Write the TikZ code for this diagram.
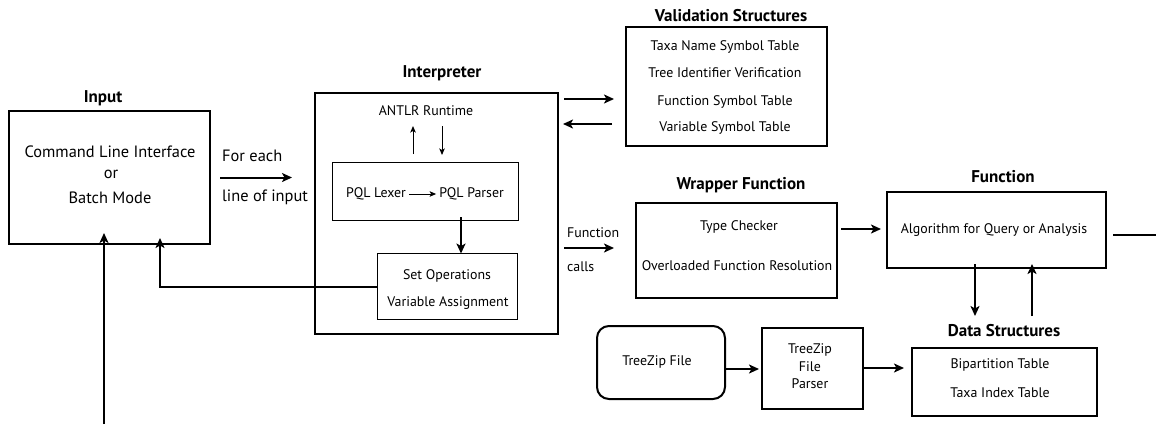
\documentclass[tikz,border=0pt]{standalone}
\usepackage{fontspec}
\setmainfont{PT Sans}
\usetikzlibrary{arrows.meta,calc}
\newcommand{\bodysize}{\fontsize{13.9}{16}\selectfont}
\newcommand{\bigsize}{\fontsize{16.4}{19}\selectfont}
\newcommand{\titlesize}{\fontsize{17}{20}\selectfont\bfseries}
\begin{document}
\begin{tikzpicture}[x=1pt,y=-1pt,
  box/.style={draw,line width=2pt,inner sep=0pt},
  thinbox/.style={draw,line width=0.9pt,inner sep=0pt},
  txt/.style={inner sep=0pt,font=\bodysize},
  bigtxt/.style={inner sep=0pt,font=\bigsize},
  ttl/.style={inner sep=0pt,font=\titlesize},
  arr/.style={line width=2pt,-{Stealth[length=10pt,width=9pt,inset=2.5pt]}},
  sarr/.style={line width=1pt,-{Stealth[length=6.5pt,width=5.5pt,inset=1.5pt]}},
  plain/.style={line width=2pt}]
\useasboundingbox (0,0) rectangle (1156,424);

% ---- boxes ----
\node[box,minimum width=201pt,minimum height=133pt] (input) at (109.5,177.5) {};
\node[box,minimum width=243pt,minimum height=241pt] (interp) at (436.5,213.5) {};
\node[thinbox,minimum width=186pt,minimum height=58pt] (pql) at (425,191) {};
\node[thinbox,minimum width=140pt,minimum height=66pt] (setop) at (447,286) {};
\node[box,minimum width=201pt,minimum height=119pt] (valid) at (726.5,86.5) {};
\node[box,minimum width=201pt,minimum height=95pt] (wrap) at (736.5,250.5) {};
\node[box,minimum width=219pt,minimum height=76pt] (func) at (996.5,230) {};
\node[box,minimum width=185pt,minimum height=68pt] (data) at (1004.5,382) {};
\node[box,rounded corners=12pt,minimum width=128pt,minimum height=73pt] (tzfile) at (661,362.5) {};
\node[box,minimum width=101pt,minimum height=81pt] (tzparser) at (812.5,368.5) {};

% ---- titles ----
\node[ttl] (tInput) at (103,98) {Input};
\node[ttl] (tInterp) at (442,73) {Interpreter};
\node[ttl] (tValid) at (731,16) {Validation Structures};
\node[ttl] (tWrap) at (741,185) {Wrapper Function};
\node[ttl] (tFunc) at (1003,177) {Function};
\node[ttl] (tData) at (1004,331) {Data Structures};

% ---- texts ----
\node[bigtxt] (cli) at (110,152) {Command Line Interface};
\node[bigtxt] (or) at (111,174) {or};
\node[bigtxt] (batch) at (110,198) {Batch Mode};
\node[bigtxt,anchor=west] (foreach) at (222,156) {For each};
\node[bigtxt,anchor=west] (lineof) at (222,197) {line of input};

\node[txt] (antlr) at (426,111) {ANTLR Runtime};
\node[txt,anchor=west] (lexer) at (346,194) {PQL Lexer};
\node[txt,anchor=east] (parser) at (504,194) {PQL Parser};
\node[txt] (setops) at (447,276) {Set Operations};
\node[txt] (varas) at (448,303) {Variable Assignment};

\node[txt] (v1) at (725,47) {Taxa Name Symbol Table};
\node[txt] (v2) at (725,73) {Tree Identifier Verification};
\node[txt] (v3) at (725,102) {Function Symbol Table};
\node[txt] (v4) at (725,128) {Variable Symbol Table};

\node[txt,anchor=west] (fcall1) at (567,233) {Function};
\node[txt,anchor=west] (fcall2) at (567,267) {calls};
\node[txt] (type) at (739,227) {Type Checker};
\node[txt] (overl) at (737,266) {Overloaded Function Resolution};

\node[txt] (algo) at (994,230) {Algorithm for Query or Analysis};

\node[txt] (tzf) at (657,362) {TreeZip File};
\node[txt] (p1) at (810,350) {TreeZip};
\node[txt] (p2) at (810,367) {File};
\node[txt] (p3) at (810,384) {Parser};

\node[txt] (bip) at (1000,365) {Bipartition Table};
\node[txt] (taxa) at (1000,393) {Taxa Index Table};

% ---- free ends ----
\coordinate (exitR) at (1156,235);
\coordinate (entryB) at (104,424);
\coordinate (bendL) at (160,287);

% ---- connectors ----
\draw[arr] ([xshift=9pt]input.east) -- ([xshift=-22pt]interp.west |- input.east);
\draw[arr] ([xshift=5pt]interp.east |- 0,99) -- ([xshift=-11pt]valid.west |- 0,99);
\draw[arr] ([xshift=-13pt]valid.west |- 0,124) -- ([xshift=4pt]interp.east |- 0,124);
\draw[arr] ([xshift=5pt]interp.east |- 0,248) -- ([xshift=-21pt]wrap.west |- 0,248);
\draw[arr] ([xshift=3pt]wrap.east |- 0,229) -- ([xshift=-5pt]func.west |- 0,229);

\draw[sarr] (413,154) -- (413,126);
\draw[sarr] (442,126) -- (442,155);
\draw[sarr] ([xshift=3pt]lexer.east) -- ([xshift=-3pt]parser.west);
\draw[arr] ([yshift=3pt]pql.south -| 461,0) -- ([yshift=-1pt]setop.north -| 461,0);

\draw[arr] (setop.west |- bendL) -- (bendL) -- ([yshift=7pt]bendL |- input.south);
\draw[arr] (entryB) -- ([yshift=12pt]entryB |- input.south);
\draw[plain] ([xshift=6pt]func.east |- exitR) -- (exitR);

\draw[arr] ([yshift=5pt]func.south -| 975,0) -- (975,316);
\draw[arr] (1032,316) -- ([yshift=5pt]func.south -| 1032,0);

\draw[arr] (tzfile.east |- 0,369) -- ([xshift=-2pt]tzparser.west |- 0,369);
\draw[arr] (tzparser.east |- 0,368) -- ([xshift=-7pt]data.west |- 0,368);
\end{tikzpicture}
\end{document}
